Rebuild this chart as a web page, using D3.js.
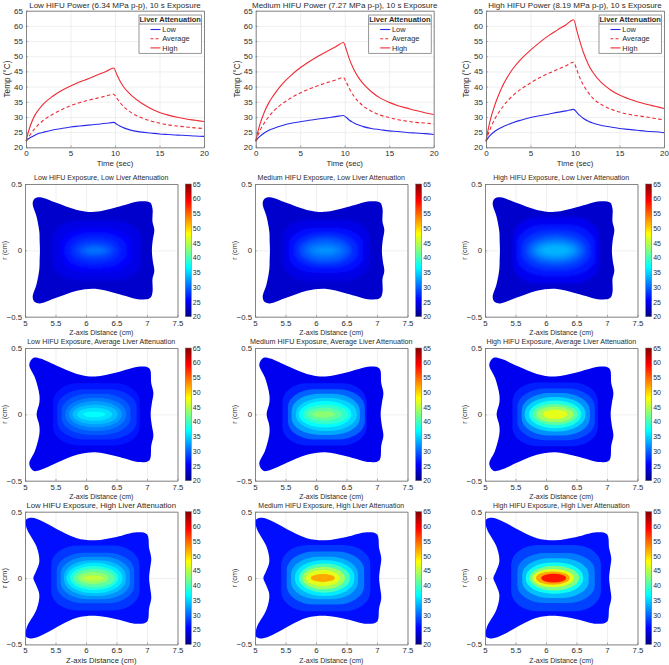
<!DOCTYPE html>
<html>
<head>
<meta charset="utf-8">
<script src="https://cdn.jsdelivr.net/npm/d3@7"></script>
<style>
  body { margin: 0; background: #fff; }
  text { font-family: "Liberation Sans", Arial, sans-serif; fill: #2b2b2b; }
</style>
</head>
<body>
<div id="chart"></div>
<script>
// Tiempo de las curvas (sec)
const times = [0, 0.25, 0.5, 1, 1.5, 2, 3, 4, 5, 6, 7, 8, 9, 9.85, 10.2, 10.5, 11, 11.5, 12, 13, 14, 15, 16, 17, 18, 19, 20];

// Curvas de temperatura, una fila por potencia (Low, Medium, High)
const lowCurves = [
  [22, 22.7, 23.2, 24, 24.6, 25, 25.7, 26.2, 26.7, 27, 27.3, 27.6, 27.9, 28.2, 27.6, 27.1, 26.4, 25.9, 25.5, 25, 24.7, 24.4, 24.2, 24, 23.9, 23.7, 23.6],
  [22, 23, 23.7, 24.8, 25.6, 26.2, 27.2, 27.9, 28.4, 28.9, 29.3, 29.7, 30.1, 30.5, 29.8, 29, 28.1, 27.4, 26.9, 26.2, 25.8, 25.4, 25.2, 24.9, 24.7, 24.5, 24.2],
  [22, 23.2, 24, 25.3, 26.2, 26.9, 28.1, 29, 29.8, 30.4, 30.9, 31.5, 32, 32.5, 31.5, 30.6, 29.4, 28.6, 28, 27.2, 26.7, 26.2, 25.9, 25.6, 25.3, 25.1, 24.8]
];
const averageCurves = [
  [22, 23.2, 24.3, 26.2, 27.7, 29, 30.9, 32.4, 33.7, 34.7, 35.5, 36.2, 36.9, 37.5, 36.2, 35, 33.3, 32.1, 31.1, 29.7, 28.7, 28, 27.4, 27, 26.7, 26.4, 26.2],
  [22, 24, 25.6, 28.2, 30.2, 31.9, 34.4, 36.3, 37.9, 39.2, 40.3, 41.3, 42.2, 43, 41.3, 39.5, 37, 35.2, 33.8, 31.9, 30.6, 29.8, 29.1, 28.6, 28.2, 28, 27.7],
  [22, 24.4, 26.2, 29.4, 31.8, 33.8, 37, 39.3, 41.2, 42.9, 44.3, 45.6, 46.9, 48, 45.5, 43.2, 40.2, 38, 36.2, 34, 32.6, 31.6, 30.9, 30.4, 30, 29.5, 29]
];
const highCurves = [
  [22, 24.9, 27.2, 30.6, 32.7, 34.4, 36.8, 38.7, 40.2, 41.5, 42.6, 43.8, 45, 46.1, 44, 42.2, 39.8, 38.1, 36.7, 34.5, 32.8, 31.5, 30.6, 29.9, 29.3, 28.9, 28.5],
  [22, 25.2, 27.8, 31.8, 34.8, 37.1, 40.9, 43.8, 46.2, 48.2, 50, 51.6, 53.1, 54.5, 52, 49.3, 45.8, 43.2, 41.2, 38.3, 36.2, 34.8, 33.7, 32.9, 32.1, 31.4, 30.8],
  [22, 26, 29.2, 34, 37.8, 41, 45.8, 49.2, 52, 54.5, 56.7, 58.6, 60.4, 62, 58.5, 55.4, 50.8, 47.3, 44.7, 41.2, 38.9, 37.2, 36, 35, 34.2, 33.5, 32.8]
];

// Contorno de la región calentada [z, r], mitad superior, una lista por atenuación
const outlineLow = [[5.245, 0], [5.24, 0.07], [5.235, 0.14], [5.19, 0.254], [5.126, 0.354], [5.16, 0.39], [5.25, 0.4], [5.5, 0.36], [5.85, 0.305], [6.15, 0.29], [6.5, 0.325], [6.89, 0.37], [7.05, 0.36], [7.09, 0.315], [7.09, 0.215], [7.12, 0.155], [7.095, 0.08], [7.08, 0]];
const outlineAverage = [[5.19, 0], [5.235, 0.085], [5.235, 0.15], [5.164, 0.275], [5.07, 0.375], [5.136, 0.425], [5.25, 0.42], [5.55, 0.36], [5.85, 0.305], [6.15, 0.285], [6.5, 0.315], [6.89, 0.36], [7.04, 0.345], [7.07, 0.235], [7.105, 0.16], [7.08, 0.085], [7.06, 0]];
const outlineHigh = [[5.137, 0], [5.18, 0.05], [5.235, 0.125], [5.19, 0.235], [5.027, 0.375], [5.016, 0.44], [5.11, 0.455], [5.3, 0.425], [5.6, 0.35], [5.85, 0.3], [6.15, 0.285], [6.5, 0.31], [6.83, 0.345], [7, 0.33], [7.035, 0.225], [7.07, 0.15], [7.05, 0.07], [7.035, 0]];

// Temperatura exterior de cada fila de mapas
const outerTemps = [23.4, 25, 26.2];

// Bandas de temperatura [T, zMin, zMax, rMax], de fuera hacia dentro
const bandsLow = [
  [[24.5, 5.45, 6.9, 0.225], [25.5, 5.58, 6.76, 0.165], [26.5, 5.66, 6.66, 0.13], [27.5, 5.74, 6.56, 0.1], [28.5, 5.82, 6.48, 0.07], [29.5, 5.9, 6.4, 0.045], [30.5, 5.98, 6.32, 0.025]],
  [[24.5, 5.45, 6.88, 0.23], [26, 5.55, 6.78, 0.17], [27.5, 5.65, 6.68, 0.13], [29, 5.73, 6.58, 0.1], [30, 5.81, 6.5, 0.075], [31, 5.88, 6.42, 0.05], [32, 5.97, 6.33, 0.025]],
  [[25, 5.46, 6.87, 0.25], [26.5, 5.53, 6.8, 0.19], [28, 5.6, 6.72, 0.15], [29.5, 5.68, 6.64, 0.115], [31, 5.76, 6.56, 0.085], [32.5, 5.84, 6.48, 0.06], [33.5, 5.93, 6.38, 0.035]]
];
const bandsAverage = [
  [[26.5, 5.46, 6.88, 0.235], [28, 5.53, 6.83, 0.19], [29.5, 5.6, 6.73, 0.155], [31, 5.66, 6.66, 0.125], [32.5, 5.72, 6.59, 0.1], [34, 5.78, 6.52, 0.075], [35.5, 5.85, 6.43, 0.05], [37, 5.95, 6.32, 0.022]],
  [[27, 5.45, 6.83, 0.235], [30, 5.54, 6.8, 0.19], [33, 5.6, 6.72, 0.155], [35, 5.67, 6.67, 0.125], [37, 5.72, 6.58, 0.1], [39, 5.78, 6.53, 0.075], [41, 5.85, 6.42, 0.05], [43, 5.94, 6.31, 0.025]],
  [[27, 5.45, 6.85, 0.24], [29, 5.53, 6.8, 0.195], [32, 5.6, 6.72, 0.16], [35, 5.65, 6.65, 0.13], [38, 5.72, 6.58, 0.105], [41, 5.78, 6.52, 0.08], [44, 5.85, 6.45, 0.06], [47, 5.95, 6.35, 0.035]]
];
const bandsHigh = [
  [[28, 5.43, 6.875, 0.245], [30, 5.52, 6.79, 0.19], [32, 5.585, 6.72, 0.16], [34, 5.64, 6.655, 0.135], [36, 5.68, 6.6, 0.115], [38.5, 5.74, 6.53, 0.09], [41, 5.8, 6.47, 0.07], [43.5, 5.87, 6.37, 0.045], [45.5, 5.96, 6.28, 0.02]],
  [[28, 5.43, 6.89, 0.25], [31, 5.52, 6.79, 0.2], [33.5, 5.59, 6.69, 0.16], [36, 5.655, 6.63, 0.135], [40, 5.72, 6.56, 0.11], [44, 5.775, 6.475, 0.085], [47, 5.835, 6.39, 0.06], [52, 5.915, 6.31, 0.03]],
  [[28.5, 5.43, 6.9, 0.25], [31, 5.53, 6.8, 0.188], [34, 5.61, 6.7, 0.15], [37.5, 5.67, 6.61, 0.118], [42.5, 5.73, 6.545, 0.093], [47, 5.78, 6.46, 0.068], [52, 5.835, 6.39, 0.05], [58.5, 5.92, 6.33, 0.033]]
];

const lineTitles = ["Low HIFU Power (6.34 MPa p-p), 10 s Exposure", "Medium HIFU Power (7.27 MPa p-p), 10 s Exposure", "High HIFU Power (8.19 MPa p-p), 10 s Exposure"];
const powerNames = ["Low", "Medium", "High"];
const attenuationNames = ["Low", "Average", "High"];
const legendLabels = ["Low", "Average", "High"];

const tempTicks = d3.range(20, 70, 5);
const timeTicks = [0, 5, 10, 15, 20];
const zTicks = [5, 5.5, 6, 6.5, 7, 7.5];
const rTicks = [-0.5, 0, 0.5];

// Posiciones de los ejes en la página
const lineLefts = [26, 255.7, 486], lineWidth = 178;
const lineLabelOffsets = [-16, -16, -17];
const mapLefts = [25, 255, 485], mapWidth = 152.5;
const barLefts = [185.3, 415.7, 645.7];
const mapTops = [184, 348, 511.7], mapHeight = 132.7;
const titleSizes = [[7.05, 7.1, 7.05], [7.1, 7.2, 7.1], [7.75, 6.95, 7]];

const grid = "#e4e4e4", axisColor = "#6b6b6b";
const blue = "#2a2aee", red = "#f02a34";

const svg = d3.select("#chart").append("svg").attr("width", 669).attr("height", 665);
const defs = svg.append("defs");

// Paleta jet de MATLAB para 20-65 °C
function jet(t) {
  const v = (Math.min(1, Math.max(0, t)));
  const ramp = c => Math.round(255 * Math.max(0, Math.min(1, 1.5 - Math.abs(4 * v - c))));
  return `rgb(${ramp(3)},${ramp(2)},${ramp(1)})`;
}
const tempColor = T => jet((T - 20) / 45);

const barGrad = defs.append("linearGradient").attr("id", "jetBar").attr("x1", 0).attr("y1", 1).attr("x2", 0).attr("y2", 0);
d3.range(0, 1.001, 0.025).forEach(t => barGrad.append("stop").attr("offset", t).attr("stop-color", jet(t)));
defs.append("filter").attr("id", "soft").append("feGaussianBlur").attr("stdDeviation", 1.4);

function styleAxis(g, size) {
  g.select(".domain").attr("stroke", axisColor).attr("stroke-width", 0.8);
  g.selectAll(".tick line").attr("stroke", axisColor).attr("stroke-width", 0.6);
  g.selectAll("text").attr("font-size", size).style("fill", "#2b2b2b");
}

// Rejilla clara bajo las marcas
function drawGrid(g, x, y, xTicks, yTicks, w, h) {
  g.append("g").attr("transform", `translate(0,${h})`)
    .call(d3.axisBottom(x).tickValues(xTicks).tickSize(-h).tickFormat(""))
    .call(a => { a.select(".domain").remove(); a.selectAll("line").attr("stroke", grid).attr("stroke-width", 0.6); });
  g.append("g")
    .call(d3.axisLeft(y).tickValues(yTicks).tickSize(-w).tickFormat(""))
    .call(a => { a.select(".domain").remove(); a.selectAll("line").attr("stroke", grid).attr("stroke-width", 0.6); });
}
// Caja con ticks hacia dentro
function drawFrame(g, x, y, xTicks, yTicks, w, h, tickFont) {
  g.append("g").attr("transform", `translate(0,${h})`)
    .call(d3.axisBottom(x).tickValues(xTicks).tickSizeOuter(0).tickSizeInner(-1.8).tickPadding(3.5).tickFormat(d3.format("")))
    .call(styleAxis, tickFont);
  g.append("g")
    .call(d3.axisLeft(y).tickValues(yTicks).tickSizeOuter(0).tickSizeInner(-1.8).tickPadding(3).tickFormat(d3.format("")))
    .call(styleAxis, tickFont);
  g.append("g").call(d3.axisTop(x).tickValues([]).tickSizeOuter(0)).call(styleAxis, tickFont);
  g.append("g").attr("transform", `translate(${w},0)`).call(d3.axisRight(y).tickValues([]).tickSizeOuter(0)).call(styleAxis, tickFont);
}

// Fila superior: curvas de temperatura
lineTitles.forEach((title, col) => {
  const top = 10.7, h = 136.6, w = lineWidth;
  const g = svg.append("g").attr("transform", `translate(${lineLefts[col]},${top})`);
  const x = d3.scaleLinear().domain([0, 20]).range([0, w]);
  const y = d3.scaleLinear().domain([20, 65]).range([h, 0]);
  drawGrid(g, x, y, timeTicks, tempTicks, w, h);

  const line = d3.line().x((d, i) => x(times[i])).y(d => y(d)).curve(d3.curveMonotoneX);
  g.append("path").attr("d", line(lowCurves[col])).attr("fill", "none").attr("stroke", blue).attr("stroke-width", 1.1);
  g.append("path").attr("d", line(averageCurves[col])).attr("fill", "none").attr("stroke", red).attr("stroke-width", 1.1).attr("stroke-dasharray", "3.5,2.5");
  g.append("path").attr("d", line(highCurves[col])).attr("fill", "none").attr("stroke", red).attr("stroke-width", 1.1);

  drawFrame(g, x, y, timeTicks, tempTicks, w, h, 8);

  g.append("text").attr("x", w / 2).attr("y", -3.2).attr("text-anchor", "middle").attr("font-size", 8).text(title);
  g.append("text").attr("x", w / 2).attr("y", h + 18.5).attr("text-anchor", "middle").attr("font-size", 7.8).text("Time (sec)");
  g.append("text").attr("transform", `translate(${lineLabelOffsets[col]},${h / 2}) rotate(-90)`).attr("text-anchor", "middle").attr("font-size", 8.2).text("Temp (°C)");

  // Leyenda
  const lg = g.append("g").attr("transform", `translate(${w - 65},4.3)`);
  lg.append("rect").attr("width", 62.5).attr("height", 38.3).attr("fill", "#fff").attr("stroke", axisColor).attr("stroke-width", 0.7);
  lg.append("line").attr("x1", 0).attr("x2", 62.5).attr("y1", 9).attr("y2", 9).attr("stroke", axisColor).attr("stroke-width", 0.7);
  lg.append("text").attr("x", 31.2).attr("y", 7.2).attr("text-anchor", "middle").attr("font-size", 7.5).attr("font-weight", "bold").text("Liver Attenuation");
  legendLabels.forEach((label, i) => {
    const ly = 14.5 + i * 9.2;
    lg.append("line").attr("x1", 11.5).attr("x2", 21.5).attr("y1", ly).attr("y2", ly)
      .attr("stroke", i === 0 ? blue : red).attr("stroke-width", 1.1).attr("stroke-dasharray", i === 1 ? "3,2" : null);
    lg.append("text").attr("x", 23.3).attr("y", ly + 2.7).attr("font-size", 7.4).text(label);
  });
});

// Filas de mapas de temperatura
const outlines = [outlineLow, outlineAverage, outlineHigh];
const allBands = [bandsLow, bandsAverage, bandsHigh];

attenuationNames.forEach((att, row) => {
  powerNames.forEach((power, col) => {
    const w = mapWidth, h = mapHeight;
    const g = svg.append("g").attr("transform", `translate(${mapLefts[col]},${mapTops[row]})`);
    const x = d3.scaleLinear().domain([5, 7.5]).range([0, w]);
    const y = d3.scaleLinear().domain([-0.5, 0.5]).range([h, 0]);
    drawGrid(g, x, y, zTicks, rTicks, w, h);

    // Contorno exterior: mitad superior y su reflejo
    const top = outlines[row];
    const ring = top.concat(top.slice(1, -1).reverse().map(p => [p[0], -p[1]]));
    const outlinePath = d3.line().x(d => x(d[0])).y(d => y(d[1])).curve(d3.curveCatmullRomClosed.alpha(0.5));
    g.append("path").attr("d", outlinePath(ring)).attr("fill", tempColor(outerTemps[row]));

    // Bandas, más redondas cuanto más interiores
    const bands = allBands[row][col];
    const bandGroup = g.append("g").attr("filter", row === 0 ? "url(#soft)" : null);
    bands.forEach((b, i) => {
      const bw = x(b[2]) - x(b[1]), bh = y(-b[3]) - y(b[3]);
      const round = 0.6 + 0.4 * Math.min(1, 2 * i / (bands.length - 1));
      bandGroup.append("rect")
        .attr("x", x(b[1])).attr("y", y(b[3])).attr("width", bw).attr("height", bh)
        .attr("rx", round * bw / 2).attr("ry", round * bh / 2)
        .attr("fill", tempColor(b[0]));
    });

    drawFrame(g, x, y, zTicks, rTicks, w, h, 7.8);

    const big = row === 2 && col === 0;
    g.append("text").attr("x", w / 2).attr("y", -3.6).attr("text-anchor", "middle").attr("font-size", titleSizes[row][col])
      .text(`${power} HIFU Exposure, ${att} Liver Attenuation`);
    g.append("text").attr("x", w / 2).attr("y", h + 18.5).attr("text-anchor", "middle").attr("font-size", big ? 7.7 : 7)
      .text("Z-axis Distance (cm)");
    g.append("text").attr("transform", `translate(-18,${h / 2}) rotate(-90)`).attr("text-anchor", "middle").attr("font-size", big ? 7.7 : 7.2)
      .text("r (cm)");

    // Barra de color
    const bar = svg.append("g").attr("transform", `translate(${barLefts[col]},${mapTops[row]})`);
    const by = d3.scaleLinear().domain([20, 65]).range([h, 0]);
    bar.append("rect").attr("width", 6).attr("height", h).attr("fill", "url(#jetBar)");
    bar.append("g").attr("transform", "translate(6,0)")
      .call(d3.axisRight(by).tickValues(tempTicks).tickSizeOuter(0).tickSizeInner(0).tickPadding(1.5))
      .call(a => { a.select(".domain").remove(); a.selectAll("text").attr("font-size", 7).style("fill", "#2b2b2b"); });
    bar.append("rect").attr("width", 6).attr("height", h).attr("fill", "none").attr("stroke", axisColor).attr("stroke-width", 0.5);
  });
});
</script>
</body>
</html>
